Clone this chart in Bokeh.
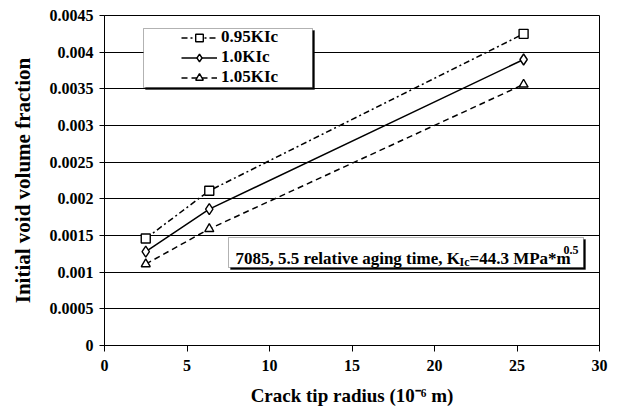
from bokeh.plotting import figure
from bokeh.models import (Range1d, FixedTicker, BoxAnnotation, Label, Legend, LegendItem)
from bokeh.embed import file_html
from bokeh.resources import INLINE

# ---- data ----
radius = [2.5, 6.35, 25.4]
vf_095 = [0.00146, 0.00211, 0.00425]
vf_100 = [0.00128, 0.00186, 0.00390]
vf_105 = [0.00111, 0.00159, 0.00356]
series_names = ["0.95KIc", "1.0KIc", "1.05KIc"]

x_ticks = [0, 5, 10, 15, 20, 25, 30]
y_ticks = [0, 0.0005, 0.001, 0.0015, 0.002, 0.0025, 0.003, 0.0035, 0.004, 0.0045]
y_tick_labels = ["0", "0.0005", "0.001", "0.0015", "0.002", "0.0025", "0.003",
                 "0.0035", "0.004", "0.0045"]

FONT = "'Liberation Serif', 'Times New Roman', serif"

# frame geometry (px) for placing annotations
FL, FR, FT, FB = 104, 599, 15, 345
XMAX, YMAX = 30, 0.0045


def dx(px):
    return (px - FL) / (FR - FL) * XMAX


def dy(py):
    return (FB - py) / (FB - FT) * YMAX


p = figure(frame_width=FR - FL, frame_height=FB - FT, output_backend="svg",
           toolbar_location=None, min_border_left=FL, min_border_right=644 - FR,
           min_border_top=FT, min_border_bottom=416 - FB,
           x_range=Range1d(0, XMAX), y_range=Range1d(0, YMAX))
p.background_fill_color = "white"
p.border_fill_color = "white"
p.outline_line_color = "black"
p.outline_line_width = 1

# grid
p.xgrid.visible = False
p.ygrid.grid_line_color = "black"
p.ygrid.grid_line_width = 1
p.ygrid.ticker = FixedTicker(ticks=y_ticks)

# axes
p.xaxis.ticker = FixedTicker(ticks=x_ticks)
p.yaxis.ticker = FixedTicker(ticks=y_ticks)
p.yaxis.major_label_overrides = dict(zip(y_ticks, y_tick_labels))
for ax in (p.xaxis[0], p.yaxis[0]):
    ax.axis_line_color = "black"
    ax.major_tick_line_color = "black"
    ax.minor_tick_line_color = None
    ax.major_tick_in = 0
    ax.major_label_text_font = FONT
    ax.major_label_text_font_style = "bold"
    ax.major_label_text_font_size = "16px"
    ax.major_label_text_color = "black"
    ax.axis_label_text_font = FONT
    ax.axis_label_text_font_style = "bold"
    ax.axis_label_text_color = "black"
p.xaxis.major_tick_out = 6
p.yaxis.major_tick_out = 5
p.xaxis.major_label_standoff = 8
p.yaxis.major_label_standoff = 6
p.xaxis.axis_label = "Crack tip radius (10\u207b\u2076 m)"
p.yaxis.axis_label = "Initial void volume fraction"
p.xaxis.axis_label_text_font_size = "19px"
p.yaxis.axis_label_text_font_size = "21px"
p.xaxis.axis_label_standoff = 11
p.yaxis.axis_label_standoff = 12

# series
styles = [
    (vf_095, "square", "6 3 2 3"),
    (vf_100, "diamond", "solid"),
    (vf_105, "triangle", "6 4"),
]
items = []
for (vals, mk, dash), name in zip(styles, series_names):
    ln = p.line(radius, vals, line_color="black", line_width=1.5, line_dash=dash)
    sc = p.scatter(radius, vals, marker=mk, size=9 if mk != "diamond" else 11,
                   fill_color="white", line_color="black", line_width=1.4)
    items.append(LegendItem(label=name, renderers=[ln, sc]))

# legend frame (with shadow)
p.add_layout(BoxAnnotation(left=dx(145), right=dx(314), top=dy(30), bottom=dy(89),
                           fill_color="black", fill_alpha=1, line_color="black"))
p.add_layout(BoxAnnotation(left=dx(143), right=dx(312), top=dy(28), bottom=dy(87),
                           fill_color="white", fill_alpha=1, line_color="black",
                           line_width=1))

legend = Legend(items=items, location=(181 - FL, FB - 87),
                background_fill_alpha=0, border_line_color=None,
                padding=0, margin=0, spacing=0,
                glyph_width=36, glyph_height=19, label_height=19,
                label_standoff=4,
                label_text_font=FONT, label_text_font_style="bold",
                label_text_font_size="17px", label_text_color="black")
p.add_layout(legend, "center")

# annotation box (with shadow)
p.add_layout(BoxAnnotation(left=dx(230), right=dx(585), top=dy(239), bottom=dy(269),
                           fill_color="black", fill_alpha=1, line_color="black"))
p.add_layout(BoxAnnotation(left=dx(228), right=dx(583), top=dy(237), bottom=dy(267),
                           fill_color="white", fill_alpha=1, line_color="black",
                           line_width=1))

ty = 258
pieces = [
    ("7085, 5.5 relative aging time, K", 235, ty, "17px"),
    ("Ic", 459, ty + 3, "12px"),
    ("=44.3 MPa*m", 469, ty, "17px"),
    ("0.5", 563, ty - 9, "12px"),
]
for txt, px, py, fs in pieces:
    p.add_layout(Label(x=dx(px), y=dy(py), text=txt, text_font=FONT,
                       text_font_style="bold", text_font_size=fs,
                       text_color="black", text_baseline="alphabetic",
                       text_align="left"))

open("out.html", "w").write(file_html(p, INLINE))
